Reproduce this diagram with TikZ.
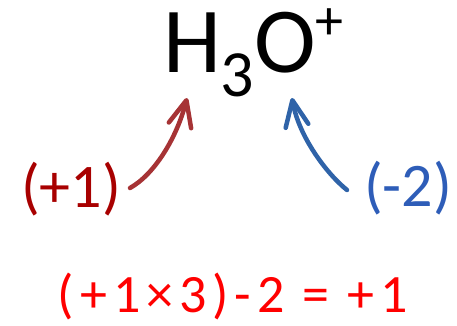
\documentclass[tikz,border=0pt]{standalone}
\usepackage{fontspec}
\setmainfont{Carlito}
\newfontfamily\eqfont[LetterSpace=11]{Carlito}
\usetikzlibrary{arrows.meta}
\definecolor{dred}{HTML}{A80000}
\definecolor{ared}{HTML}{A63335}
\definecolor{tblue}{HTML}{2E5DB8}
\definecolor{ablue}{HTML}{2F63A8}
\definecolor{eqred}{HTML}{FF0000}
\tikzset{
  txt/.style={inner sep=0pt, outer sep=0pt, anchor=base},
  charge/.style={txt, font=\fontsize{62}{62}\selectfont},
  curvearrow/.style={line width=4.5pt, line cap=round,
    -{Straight Barb[length=26pt,width=23pt,round]}},
}
\begin{document}
\begin{tikzpicture}[x=1pt,y=-1pt]
\useasboundingbox (0,0) rectangle (457,326);
\node[txt, anchor=base west] (formula) at (163,73)
  {\fontsize{93}{93}\selectfont H\raisebox{-24pt}{\fontsize{66}{66}\selectfont 3}O\raisebox{33pt}[0pt][0pt]{\fontsize{56}{56}\selectfont +}};
\node[charge, text=dred] (plus1) at (71,207) {(+1)};
\node[charge, text=tblue] (minus2) at (408,206) {(-2)};
\node[txt, text=eqred, font=\eqfont\fontsize{54}{54}\selectfont] (eq) at (233,312) {(+1×3)-2 = +1};
\coordinate (rs) at (130,188);
\coordinate (rt) at (187,98);
\coordinate (bs) at (347,190);
\coordinate (bt) at (292,98);
\draw[curvearrow, ared] (rs) .. controls (155,174) and (177,137) .. (rt);
\draw[curvearrow, ablue] (bs) .. controls (327,174) and (299,137) .. (bt);
\end{tikzpicture}
\end{document}
